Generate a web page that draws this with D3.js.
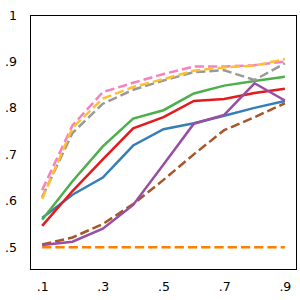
<!DOCTYPE html>
<head>
  <meta charset="utf-8">
  <style>
    body { margin: 0; background: #fff; }
    .axis text { font-family: "DejaVu Sans", sans-serif; font-size: 12.5px; fill: #000; }
    .axis .domain { display: none; }
    path.line { fill: none; stroke-width: 2.5px; }
    .frame { fill: none; stroke: #000; stroke-width: 1px; shape-rendering: crispEdges; }
  </style>
  <script src="https://d3js.org/d3.v7.min.js"></script>
</head>
<body>
  <div id="graph"></div>
  <script>
    // x positions shared by every series
    var xs = [0.1, 0.2, 0.3, 0.4, 0.5, 0.6, 0.7, 0.8, 0.9];

    var xTickValues = [0.1, 0.3, 0.5, 0.7, 0.9];
    var xTickLabels = [".1", ".3", ".5", ".7", ".9"];
    var yTickValues = [1, 0.9, 0.8, 0.7, 0.6, 0.5];
    var yTickLabels = ["1", ".9", ".8", ".7", ".6", ".5"];

    // solid series
    var blue   = [0.563, 0.613, 0.650, 0.719, 0.754, 0.767, 0.783, 0.800, 0.815];
    var green  = [0.559, 0.642, 0.717, 0.777, 0.795, 0.831, 0.848, 0.858, 0.867];
    var red    = [0.546, 0.621, 0.689, 0.756, 0.780, 0.815, 0.819, 0.832, 0.841];
    var purple = [0.505, 0.512, 0.540, 0.591, 0.678, 0.766, 0.785, 0.853, 0.816];
    // dashed series
    var orange = [0.500, 0.500, 0.500, 0.500, 0.500, 0.500, 0.500, 0.500, 0.500];
    var brown  = [0.506, 0.521, 0.550, 0.593, 0.645, 0.700, 0.752, 0.780, 0.810];
    var gray   = [0.608, 0.746, 0.809, 0.839, 0.859, 0.877, 0.881, 0.860, 0.896];
    var pink   = [0.623, 0.762, 0.834, 0.854, 0.873, 0.889, 0.889, 0.892, 0.900];
    var yellow = [0.604, 0.757, 0.820, 0.845, 0.862, 0.880, 0.887, 0.891, 0.905];

    var series = [
      { values: orange, color: "#ff7f00", dashed: true },
      { values: blue,   color: "#377eb8", dashed: false },
      { values: green,  color: "#4daf4a", dashed: false },
      { values: red,    color: "#e41a1c", dashed: false },
      { values: brown,  color: "#a65628", dashed: true },
      { values: purple, color: "#984ea3", dashed: false },
      { values: gray,   color: "#999999", dashed: true },
      { values: pink,   color: "#f781bf", dashed: true },
      { values: yellow, color: "#ffbf2e", dashed: true }
    ];

    var margin = { top: 15, right: 3, bottom: 30, left: 30 };
    var width = 300 - margin.left - margin.right;
    var height = 300 - margin.top - margin.bottom;

    var svg = d3.select("#graph").append("svg")
      .attr("width", 300)
      .attr("height", 300)
      .append("g")
      .attr("transform", "translate(" + margin.left + "," + margin.top + ")");

    var x = d3.scaleLinear().domain([0.06, 0.94]).range([0, width]);
    var y = d3.scaleLinear().domain([0.451, 1]).range([height, 0]);

    var xAxis = d3.axisBottom(x)
      .tickValues(xTickValues)
      .tickFormat(function(d, i) { return xTickLabels[i]; })
      .tickSize(0)
      .tickPadding(11.7);

    var yAxis = d3.axisLeft(y)
      .tickValues(yTickValues)
      .tickFormat(function(d, i) { return yTickLabels[i]; })
      .tickSize(0)
      .tickPadding(13);

    svg.append("g")
      .attr("class", "x axis")
      .attr("transform", "translate(0," + height + ")")
      .call(xAxis);

    svg.append("g")
      .attr("class", "y axis")
      .call(yAxis);

    var line = d3.line()
      .x(function(d, i) { return x(xs[i]); })
      .y(function(d) { return y(d); });

    svg.selectAll(".line")
      .data(series)
      .enter().append("path")
      .attr("class", "line")
      .style("stroke", function(d) { return d.color; })
      .style("stroke-dasharray", function(d) { return d.dashed ? "9.25,4" : null; })
      .attr("d", function(d) { return line(d.values); });

    svg.append("rect")
      .attr("class", "frame")
      .attr("x", 0.5)
      .attr("y", 0.5)
      .attr("width", width - 1)
      .attr("height", height - 1);
  </script>
</body>
</html>
